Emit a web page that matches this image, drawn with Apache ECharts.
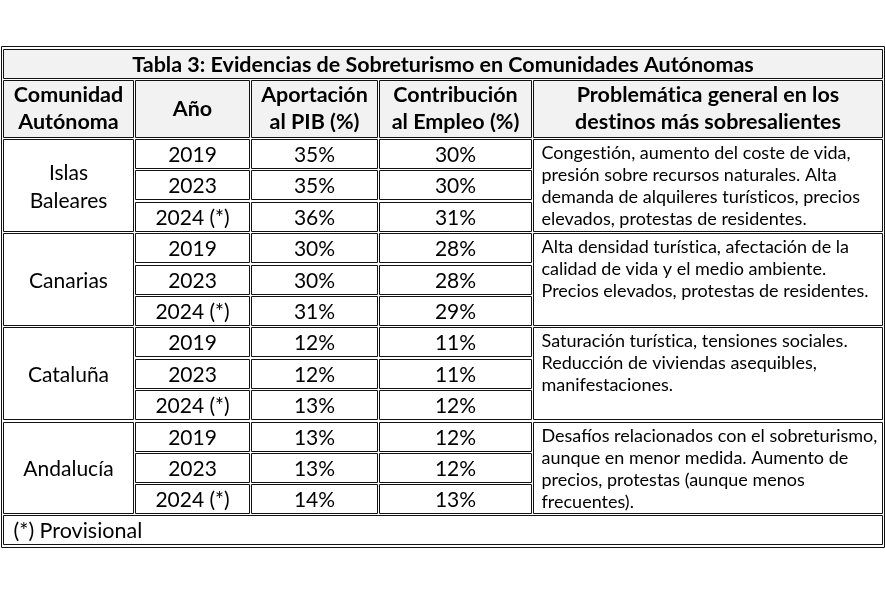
<!DOCTYPE html>
<html><head><meta charset="utf-8">
<script src="https://cdn.jsdelivr.net/npm/echarts@6/dist/echarts.min.js"></script>
<style>html,body{margin:0;padding:0;background:#fff}#c{width:885px;height:595px}</style>
</head><body><div id="c"></div>
<script>
// ---- data ----
const title = 'Tabla 3: Evidencias de Sobreturismo en Comunidades Autónomas';
const headers = ['Comunidad\nAutónoma', 'Año', 'Aportación\nal PIB (%)', 'Contribución\nal Empleo (%)', 'Problemática general en los\ndestinos más sobresalientes'];
const regions = ['Islas\nBaleares', 'Canarias', 'Cataluña', 'Andalucía'];
const years = ['2019', '2023', '2024 (*)'];
const pib = [[35, 35, 36], [30, 30, 31], [12, 12, 13], [13, 13, 14]];
const empleo = [[30, 30, 31], [28, 28, 29], [11, 11, 12], [12, 12, 13]];
const problems = [
  'Congestión, aumento del coste de vida,\npresión sobre recursos naturales. Alta\ndemanda de alquileres turísticos, precios\nelevados, protestas de residentes.',
  'Alta densidad turística, afectación de la\ncalidad de vida y el medio ambiente.\nPrecios elevados, protestas de residentes.',
  'Saturación turística, tensiones sociales.\nReducción de viviendas asequibles,\nmanifestaciones.',
  'Desafíos relacionados con el sobreturismo,\naunque en menor medida. Aumento de\nprecios, protestas (aunque menos\nfrecuentes).'
];
const footnote = '(*) Provisional';

// ---- layout ----
const FONT = 'Lato, "Open Sans", sans-serif';
const cols = [[3.5, 133.5], [135.5, 249.5], [251.5, 377.5], [379.5, 531.5], [533.5, 882.5]];
const left = cols[0][0], right = cols[4][1];
const titleRow = [49.5, 78.5], headRow = [80.5, 137.5];
const rowTop = i => Math.round(139 + i * 31.4) + 0.5;
const rowH = 29;
const footRow = [515.5, 544.5];

const cells = [];
const meta = [];
function addCell(x0, y0, x1, y1, text, opt) {
  cells.push([x0, y0, x1, y1]);
  meta.push(Object.assign({ text: text, bold: false, size: 21, fill: '#fff', align: 'center', valign: 'middle', lh: 26, padX: 0, padY: 0, dy: 1 }, opt || {}));
}
addCell(left, titleRow[0], right, titleRow[1], title, { bold: true, size: 21.5, fill: '#f2f2f2', dy: 1.5 });
headers.forEach((h, c) => addCell(cols[c][0], headRow[0], cols[c][1], headRow[1], h, { bold: true, size: 21.5, fill: '#f2f2f2', lh: 27, dy: 0 }));
regions.forEach((r, g) => {
  const gTop = rowTop(g * 3), gBot = rowTop(g * 3 + 2) + rowH;
  addCell(cols[0][0], gTop, cols[0][1], gBot, r, { lh: 28, dy: 1.5 });
  years.forEach((y, k) => {
    const t = rowTop(g * 3 + k);
    addCell(cols[1][0], t, cols[1][1], t + rowH, y);
    addCell(cols[2][0], t, cols[2][1], t + rowH, pib[g][k] + '%');
    addCell(cols[3][0], t, cols[3][1], t + rowH, empleo[g][k] + '%');
  });
  addCell(cols[4][0], gTop, cols[4][1], gBot, problems[g], { size: 18, align: 'left', valign: 'top', lh: 22, padX: 8, padY: 3, dy: 0 });
});
addCell(left, footRow[0], right, footRow[1], footnote, { size: 21.5, align: 'left', padX: 10 });

const chart = echarts.init(document.getElementById('c'), null, { renderer: 'canvas' });
chart.setOption({
  animation: false,
  backgroundColor: '#fff',
  grid: { left: 0, right: 0, top: 0, bottom: 0 },
  xAxis: { type: 'value', min: 0, max: 885, show: false },
  yAxis: { type: 'value', min: 0, max: 595, inverse: true, show: false },
  series: [{
    type: 'custom',
    coordinateSystem: 'cartesian2d',
    data: cells,
    clip: false,
    renderItem: function (params, api) {
      const m = meta[params.dataIndex];
      const p0 = api.coord([api.value(0), api.value(1)]);
      const p1 = api.coord([api.value(2), api.value(3)]);
      const x = p0[0], y = p0[1], w = p1[0] - p0[0], h = p1[1] - p0[1];
      const tx = m.align === 'left' ? x + m.padX : x + w / 2;
      const ty = (m.valign === 'top' ? y + m.padY : y + h / 2) + m.dy;
      // break the Lato "ti" ligature so glyphs look like the source
      const txt = m.text.replace(/t(?=[ií])/g, 't\u200C');
      return {
        type: 'group',
        children: [
          { type: 'rect', shape: { x: x, y: y, width: w, height: h }, style: { fill: m.fill, stroke: '#111', lineWidth: 1 } },
          { type: 'text', style: { text: txt, x: tx, y: ty, align: m.align, verticalAlign: m.valign, fontFamily: FONT, fontSize: m.size, fontWeight: m.bold ? 'bold' : 'normal', lineHeight: m.lh, fill: '#000' } }
        ]
      };
    }
  }, {
    type: 'custom',
    coordinateSystem: 'cartesian2d',
    data: [[1.5, 46.5, 884.5, 547.5]],
    clip: false,
    renderItem: function (params, api) {
      const p0 = api.coord([api.value(0), api.value(1)]);
      const p1 = api.coord([api.value(2), api.value(3)]);
      return { type: 'rect', shape: { x: p0[0], y: p0[1], width: p1[0] - p0[0], height: p1[1] - p0[1] }, style: { fill: 'none', stroke: '#111', lineWidth: 1 } };
    }
  }]
});
</script></body></html>
